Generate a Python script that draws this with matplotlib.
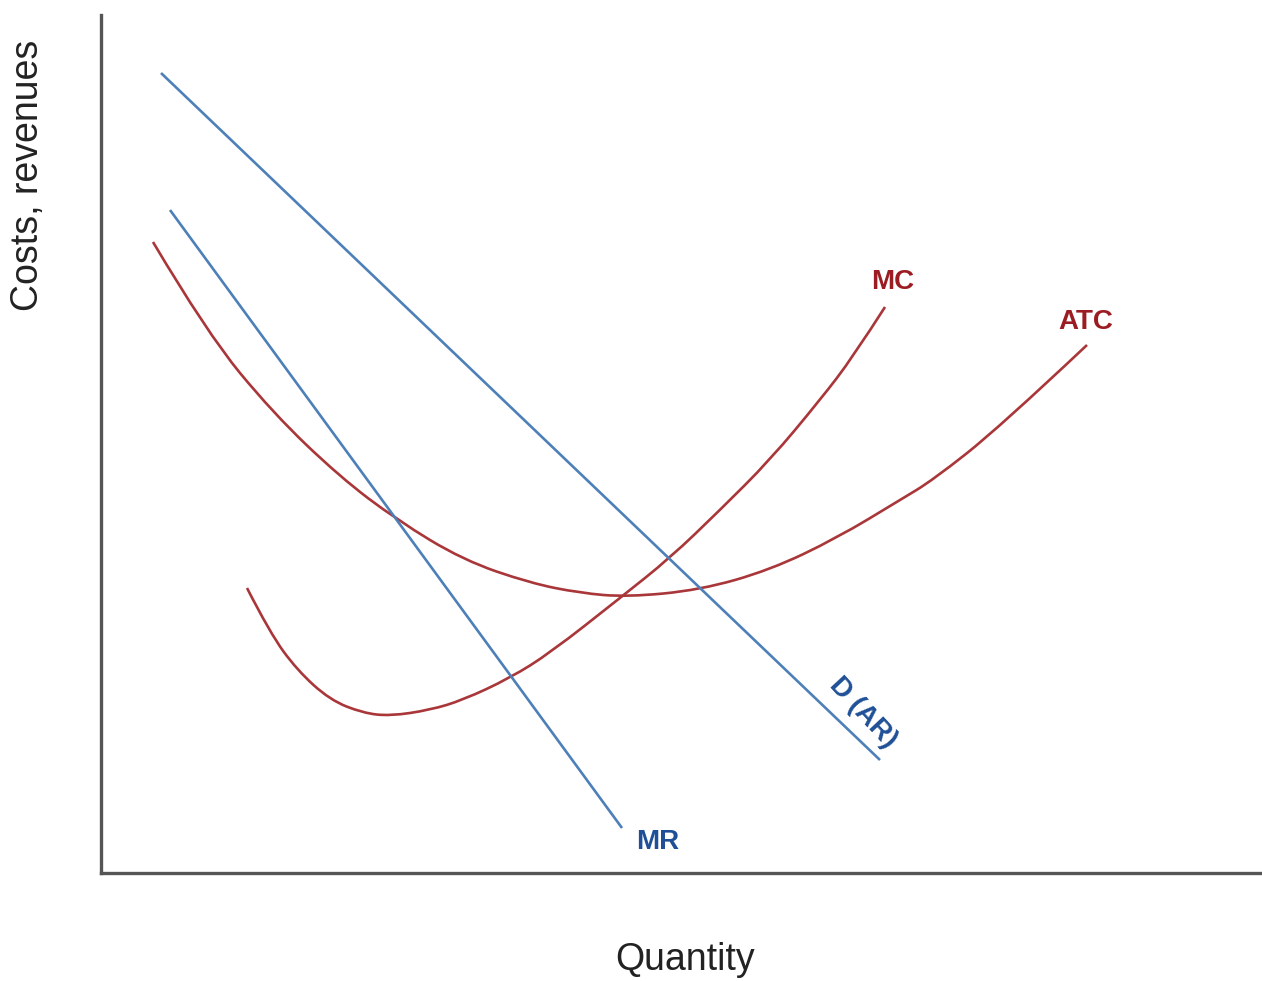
import matplotlib.pyplot as plt
from matplotlib.path import Path
from matplotlib.patches import PathPatch

plt.rcParams['font.family'] = ['Liberation Sans', 'DejaVu Sans']

# values (quantity, cost) in arbitrary units
demand_q = [60, 779]
demand_p = [800, 113]
mr_q = [69, 521]
mr_p = [663, 45]
atc_q = [52, 106, 172, 239, 296, 362, 429, 479, 526, 599, 669, 736, 799, 832, 899, 986]
atc_c = [631, 540, 460, 396, 353, 313, 290, 280, 276, 283, 303, 335, 373, 393, 446, 528]
mc_q = [146, 169, 196, 229, 262, 289, 329, 362, 409, 449, 519, 569, 619, 669, 719, 752, 784]
mc_c = [285, 240, 203, 173, 160, 157, 163, 173, 195, 220, 275, 315, 363, 413, 473, 516, 566]

red = '#a9373a'
red_txt = '#9b1c22'
blue = '#4d80b8'
blue_txt = '#1f4f96'


def smooth_path(xs, ys):
    # quadratic bezier through the midpoints of the read points
    pts = list(zip(xs, ys))
    verts = [pts[0]]
    codes = [Path.MOVETO]
    for i in range(1, len(pts) - 1):
        mid = ((pts[i][0] + pts[i + 1][0]) / 2, (pts[i][1] + pts[i + 1][1]) / 2)
        if i == len(pts) - 2:
            mid = pts[i + 1]
        verts += [pts[i], mid]
        codes += [Path.CURVE3, Path.CURVE3]
    return Path(verts, codes)


fig = plt.figure(figsize=(12.62, 9.81), dpi=100)
ax = fig.add_axes([101 / 1262, 108 / 981, 1161 / 1262, 858 / 981])
ax.set_xlim(0, 1161)
ax.set_ylim(0, 858)

ax.plot(demand_q, demand_p, color=blue, lw=1.9, solid_capstyle='butt')
ax.plot(mr_q, mr_p, color=blue, lw=1.9, solid_capstyle='butt')
ax.add_patch(PathPatch(smooth_path(atc_q, atc_c), fill=False, edgecolor=red, lw=1.9))
ax.add_patch(PathPatch(smooth_path(mc_q, mc_c), fill=False, edgecolor=red, lw=1.9))

ax.text(792, 591, 'MC', color=red_txt, fontsize=20, fontweight='bold', ha='center', va='center')
ax.text(985, 551, 'ATC', color=red_txt, fontsize=20, fontweight='bold', ha='center', va='center')
ax.text(557, 31, 'MR', color=blue_txt, fontsize=20, fontweight='bold', ha='center', va='center')
ax.text(762, 160, 'D (AR)', color=blue_txt, fontsize=20, fontweight='bold', ha='center', va='center',
        rotation=-47, rotation_mode='anchor')

for side in ['top', 'right']:
    ax.spines[side].set_visible(False)
for side in ['left', 'bottom']:
    ax.spines[side].set_color('#555555')
    ax.spines[side].set_linewidth(2.4)
ax.set_xticks([])
ax.set_yticks([])

fig.text(28 / 1262, 1 - 175 / 981, 'Costs, revenues', fontsize=27, rotation=90,
         ha='center', va='center', color='#222222')
fig.text(685 / 1262, 1 - 960 / 981, 'Quantity', fontsize=27,
         ha='center', va='center', color='#222222')

fig.savefig('out.png', dpi=100)
